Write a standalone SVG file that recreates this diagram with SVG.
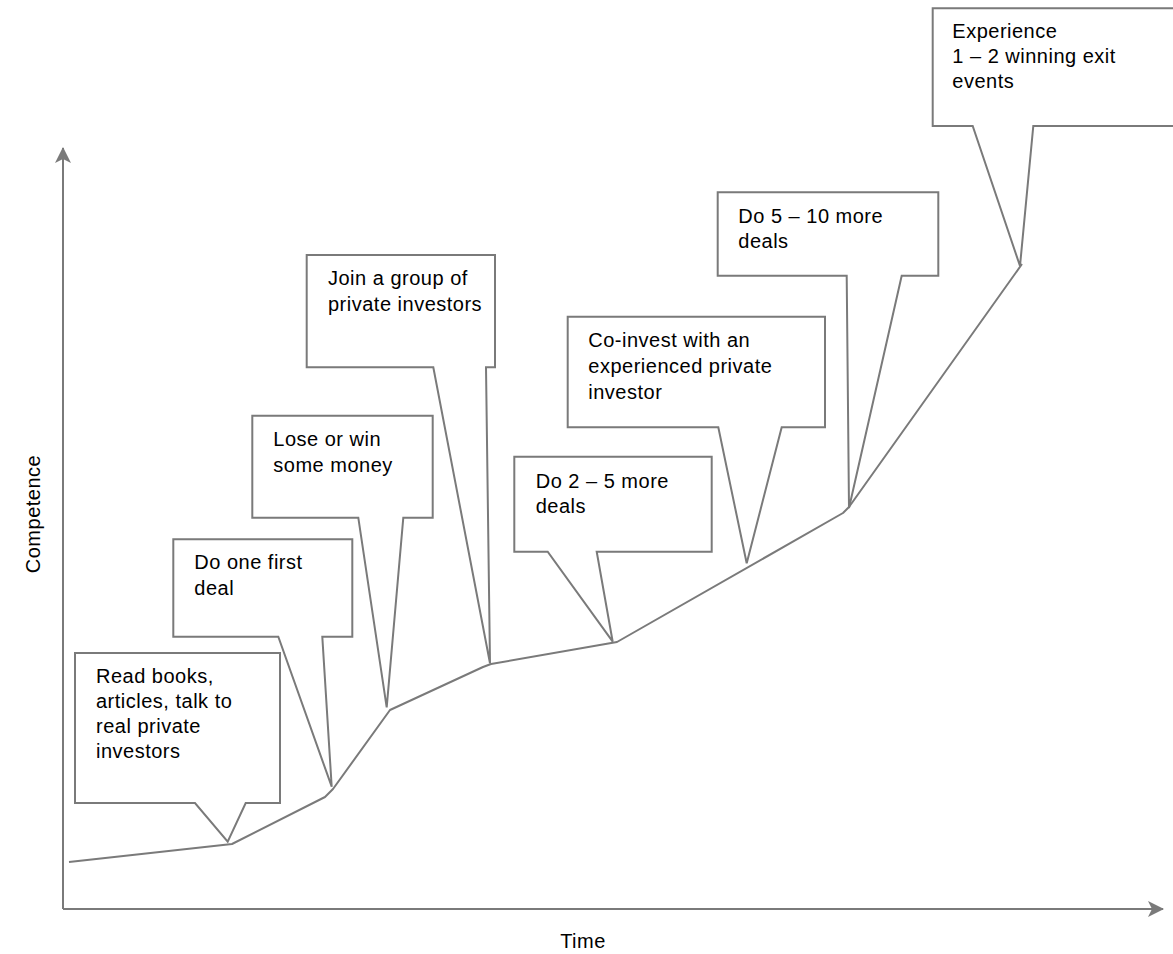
<svg xmlns="http://www.w3.org/2000/svg" width="1173" height="954" viewBox="0 0 1173 954">
<style>
.box{fill:#fff;stroke:#7a7a7a;stroke-width:2;stroke-linejoin:miter}
.t{font-family:"Liberation Sans",Arial,sans-serif;font-size:20px;letter-spacing:0.5px;fill:#000}
.ax{fill:none;stroke:#7a7a7a;stroke-width:2}
.curve{fill:none;stroke:#7a7a7a;stroke-width:2;stroke-linejoin:round}
</style>
<defs>
<marker id="arr" viewBox="0 0 16 16" refX="15" refY="8" markerWidth="16" markerHeight="16" markerUnits="userSpaceOnUse" orient="auto">
<path d="M0,0 L16,8 L0,16 L4,8 Z" fill="#7a7a7a"/>
</marker>
</defs>
<rect width="1173" height="954" fill="#fff"/>
<g id="axes">
<path class="ax" d="M63,909 V148" marker-end="url(#arr)"/>
<path class="ax" d="M63,909 H1163" marker-end="url(#arr)"/>
<text class="t" transform="translate(40,514) rotate(-90)" text-anchor="middle">Competence</text>
<text class="t" x="583" y="948" text-anchor="middle">Time</text>
</g>
<g id="connectors">
<polyline class="curve" points="69,862 232,844 325,797 333,789 390,710 483,667 491,664 617,642 843,513 849,507 1022,264"/>
</g>
<g id="n1">
<path class="box" d="M75,653 H280 V803 H245.7 L227.7,841.7 L195,803 H75 Z"/>
<text class="t" x="96" y="683">Read books,</text>
<text class="t" x="96" y="708">articles, talk to</text>
<text class="t" x="96" y="733">real private</text>
<text class="t" x="96" y="758">investors</text>
</g>
<g id="n2">
<path class="box" d="M173.3,539.3 H352.3 V636.7 H322.3 L331.7,786.7 L278.3,636.7 H173.3 Z"/>
<text class="t" x="194.3" y="569.3">Do one first</text>
<text class="t" x="194.3" y="595">deal</text>
</g>
<g id="n3">
<path class="box" d="M252.3,415.7 H432.7 V517.7 H403.3 L386.7,707.3 L358.3,517.7 H252.3 Z"/>
<text class="t" x="273.3" y="445.7">Lose or win</text>
<text class="t" x="273.3" y="471.7">some money</text>
</g>
<g id="n4">
<path class="box" d="M306.7,255 H495 V367.3 H486 L490,663.3 L433.3,367.3 H306.7 Z"/>
<text class="t" x="328" y="285">Join a group of</text>
<text class="t" x="328" y="311">private investors</text>
</g>
<g id="n5">
<path class="box" d="M514.3,456.7 H711.7 V551.7 H596.7 L612.7,641.7 L547.7,551.7 H514.3 Z"/>
<text class="t" x="535.7" y="488.3">Do 2 – 5 more</text>
<text class="t" x="535.7" y="512.7">deals</text>
</g>
<g id="n6">
<path class="box" d="M567.7,316.7 H825 V427.3 H781.7 L746.7,563.3 L718.3,427.3 H567.7 Z"/>
<text class="t" x="588.3" y="346.7">Co-invest with an</text>
<text class="t" x="588.3" y="372.7">experienced private</text>
<text class="t" x="588.3" y="399">investor</text>
</g>
<g id="n7">
<path class="box" d="M717.7,192.3 H938.3 V275.7 H901.7 L849,508 L846.7,275.7 H717.7 Z"/>
<text class="t" x="738.3" y="223.3">Do 5 – 10 more</text>
<text class="t" x="738.3" y="248.3">deals</text>
</g>
<g id="n8">
<path class="box" d="M932.7,8.3 H1180 V126 H1033.3 L1020,266 L972.7,126 H932.7 Z"/>
<text class="t" x="952.3" y="37.7">Experience</text>
<text class="t" x="952.3" y="62.7">1 – 2 winning exit</text>
<text class="t" x="952.3" y="87.7">events</text>
</g>
</svg>
